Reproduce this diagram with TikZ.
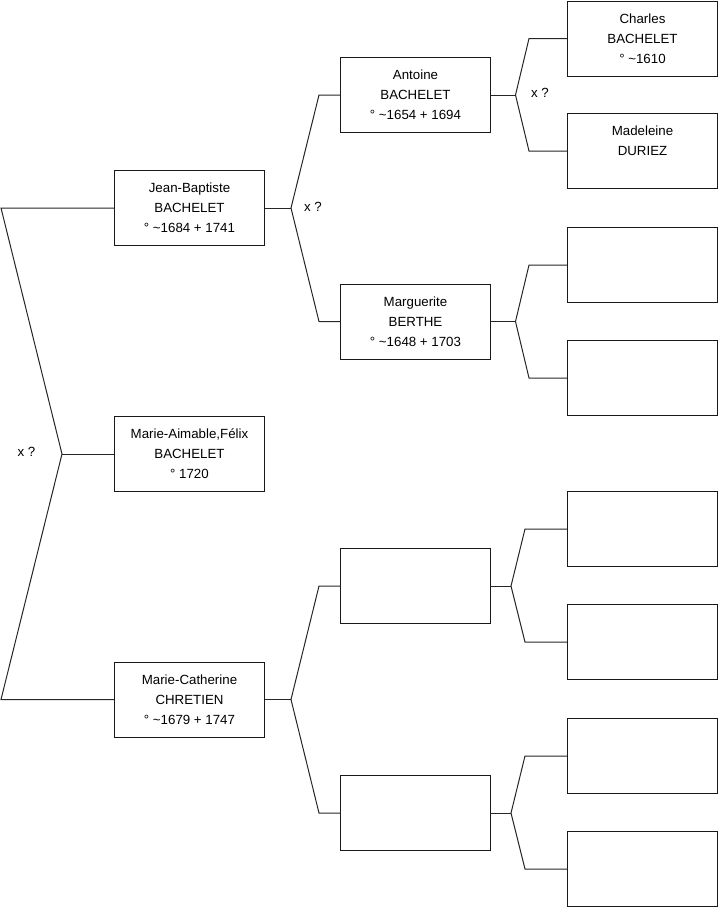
\documentclass[tikz,border=0pt]{standalone}
\usepackage{fontspec}
\setmainfont{Liberation Sans}
\begin{document}
\begin{tikzpicture}[x=1pt,y=-1pt,
  person/.style={draw=black!90,line width=1pt,rectangle,inner sep=0pt,
    minimum width=150pt,minimum height=75pt,align=center,
    font=\fontsize{13.3}{20}\selectfont,fill=white},
  link/.style={draw=black!85,line width=1pt},
  xlabel/.style={font=\fontsize{13.3}{16}\selectfont,inner sep=0pt}]
\useasboundingbox (0,0) rectangle (719,908);
% generation 1
\node[person] (jb) at (189.5,208) {Jean-Baptiste\\BACHELET\\° \textasciitilde1684 + 1741};
\node[person] (ma) at (189.5,454) {Marie-Aimable,Félix\\BACHELET\\° 1720};
\node[person] (mc) at (189.5,699.5) {Marie-Catherine\\CHRETIEN\\° \textasciitilde1679 + 1747};
% generation 2
\node[person] (an) at (415.5,95) {Antoine\\BACHELET\\° \textasciitilde1654 + 1694};
\node[person] (mg) at (415.5,321.5) {Marguerite\\BERTHE\\° \textasciitilde1648 + 1703};
\node[person] (e1) at (415.5,586) {};
\node[person] (e2) at (415.5,813) {};
% generation 3
\node[person] (ch) at (642.5,38.5) {Charles\\BACHELET\\° \textasciitilde1610};
\node[person] (md) at (642.5,151) {Madeleine\\DURIEZ\\~};
\node[person] (r3) at (642.5,265) {};
\node[person] (r4) at (642.5,378) {};
\node[person] (r5) at (642.5,529) {};
\node[person] (r6) at (642.5,642) {};
\node[person] (r7) at (642.5,756) {};
\node[person] (r8) at (642.5,869) {};
% fork coordinates
\coordinate (lt) at (1,208);
\coordinate (lm) at (62,454);
\coordinate (lb) at (1,699.5);
\coordinate (f1) at (291,208);
\coordinate (f1a) at (319,95);
\coordinate (f1b) at (319,321.5);
\coordinate (f2) at (291,699.5);
\coordinate (f2a) at (319,586);
\coordinate (f2b) at (319,813);
\coordinate (g1) at (515.5,95);
\coordinate (g1a) at (529,38.5);
\coordinate (g1b) at (529,151);
\coordinate (g2) at (515.5,321.5);
\coordinate (g2a) at (529,265);
\coordinate (g2b) at (529,378);
\coordinate (g3) at (511,586);
\coordinate (g3a) at (525,529);
\coordinate (g3b) at (525,642);
\coordinate (g4) at (511,813);
\coordinate (g4a) at (525,756);
\coordinate (g4b) at (525,869);
% connectors
\draw[link] (jb.west) -- (lt) -- (lm) -- (lb) -- (mc.west);
\draw[link] (lm) -- (ma.west);
\draw[link] (jb.east) -- (f1);
\draw[link] (an.west) -- (f1a) -- (f1) -- (f1b) -- (mg.west);
\draw[link] (mc.east) -- (f2);
\draw[link] (e1.west) -- (f2a) -- (f2) -- (f2b) -- (e2.west);
\draw[link] (an.east) -- (g1);
\draw[link] (ch.west) -- (g1a) -- (g1) -- (g1b) -- (md.west);
\draw[link] (mg.east) -- (g2);
\draw[link] (r3.west) -- (g2a) -- (g2) -- (g2b) -- (r4.west);
\draw[link] (e1.east) -- (g3);
\draw[link] (r5.west) -- (g3a) -- (g3) -- (g3b) -- (r6.west);
\draw[link] (e2.east) -- (g4);
\draw[link] (r7.west) -- (g4a) -- (g4) -- (g4b) -- (r8.west);
% marriage marks
\node[xlabel] (x0) at (26.5,452) {x ?};
\node[xlabel] (x1) at (313,207) {x ?};
\node[xlabel] (x2) at (540,93) {x ?};
\end{tikzpicture}
\end{document}
